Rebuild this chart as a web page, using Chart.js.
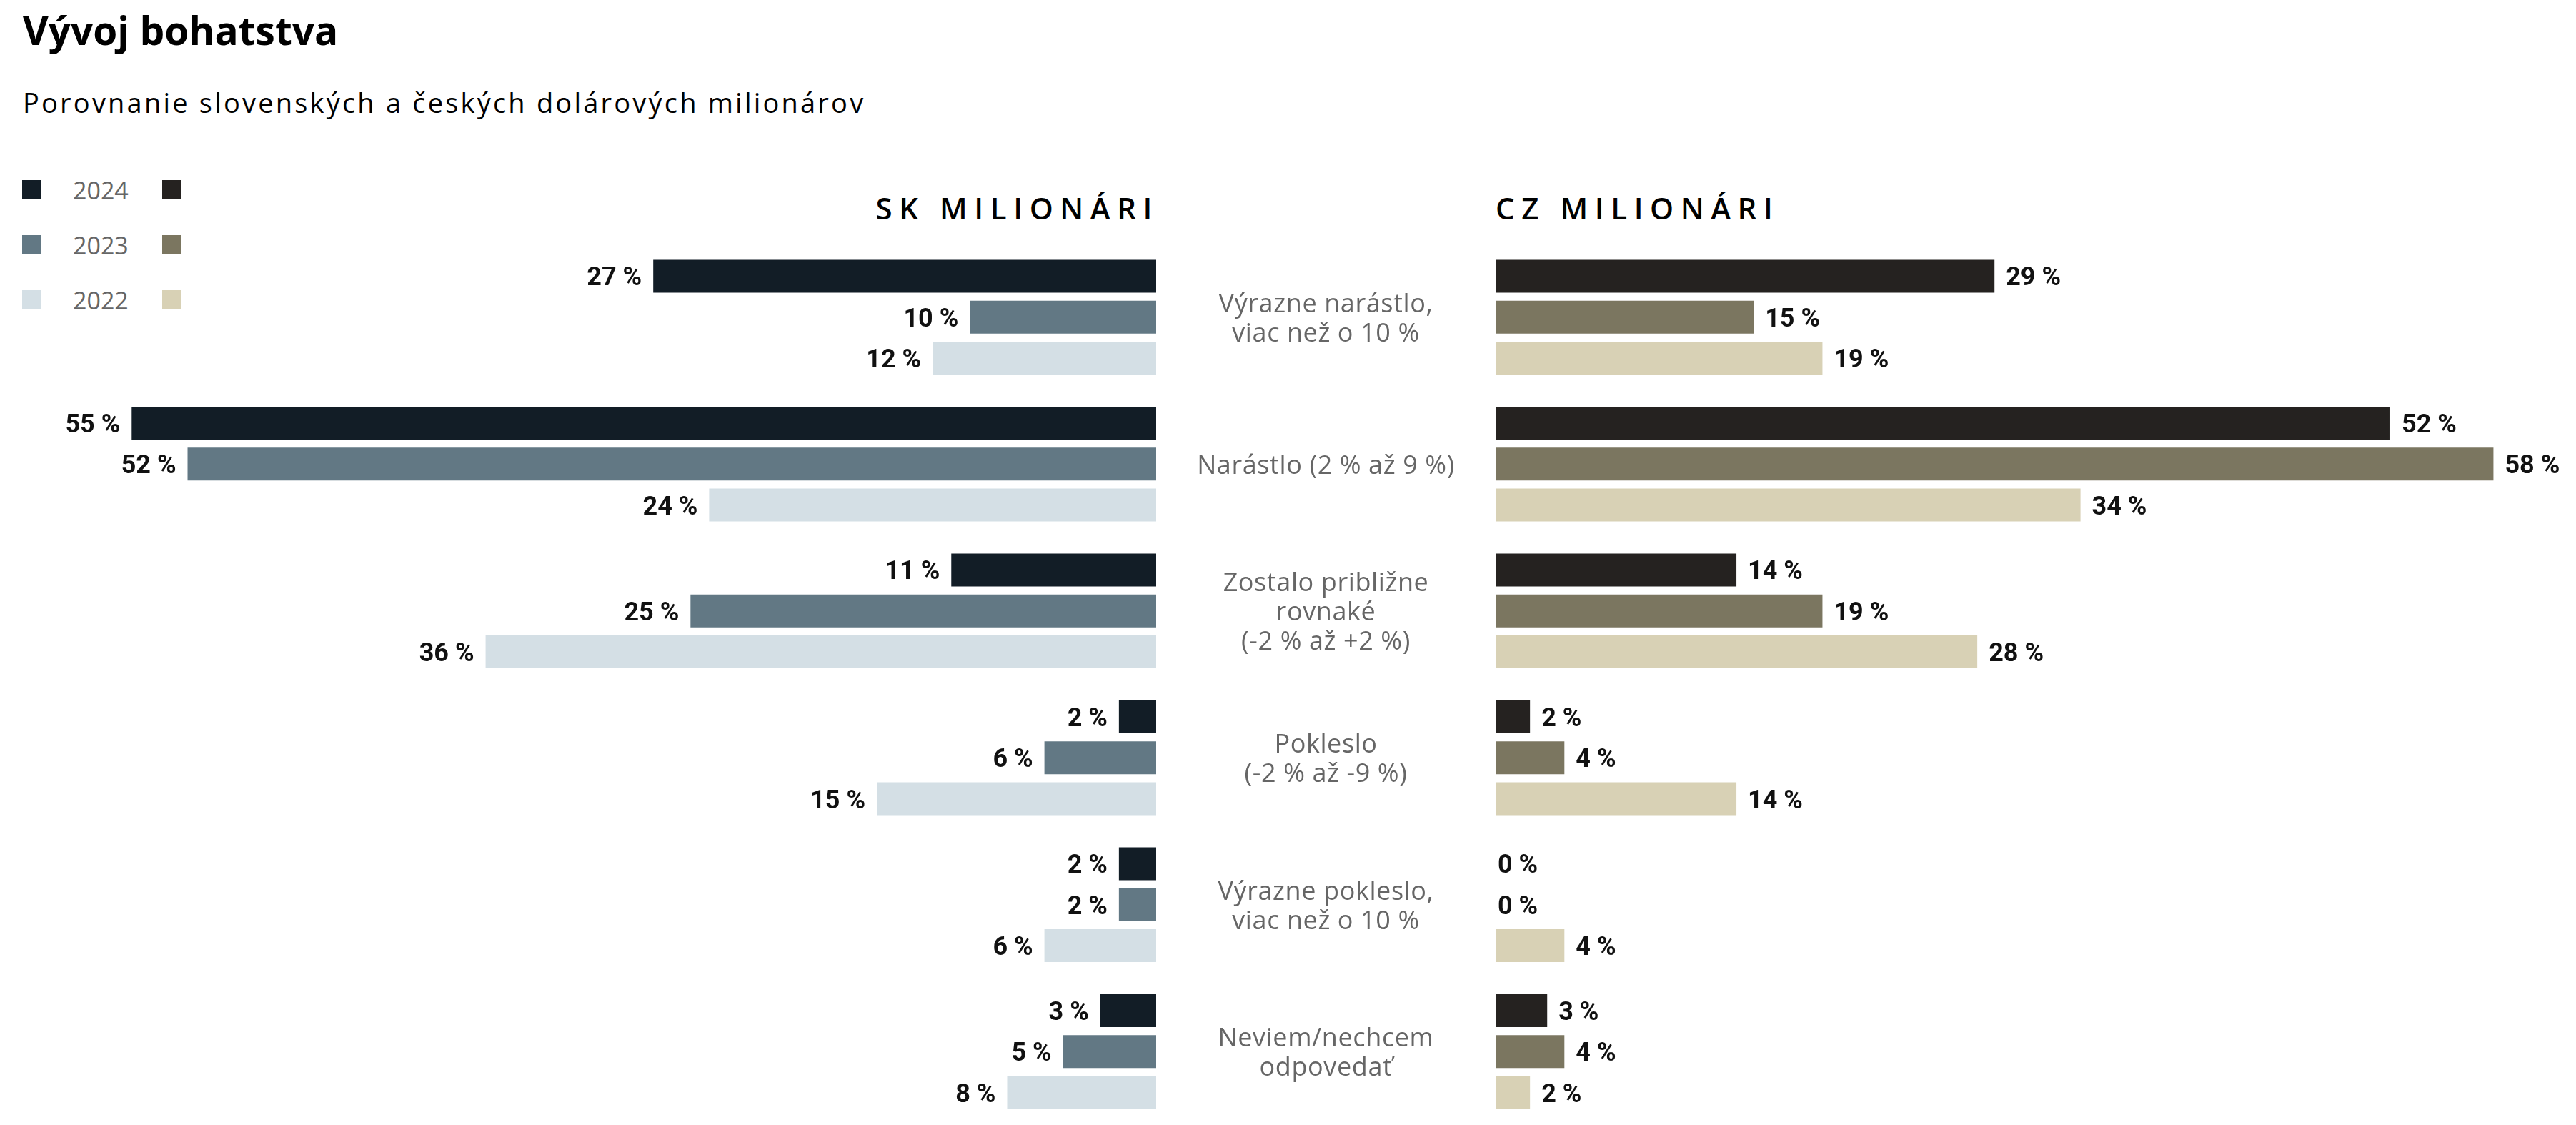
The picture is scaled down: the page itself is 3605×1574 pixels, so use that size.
<!DOCTYPE html>
<html>
<head>
<meta charset="utf-8">
<script src="https://cdn.jsdelivr.net/npm/chart.js@4.4.1/dist/chart.umd.min.js"></script>
<style>
  body { margin: 0; width: 3605px; height: 1574px; overflow: hidden; background: #fff; font-family: "Open Sans", sans-serif; }
  .abs { position: absolute; white-space: nowrap; line-height: 1; }
  #title { left: 32px; top: 14px; font-size: 55px; font-weight: 700; color: #000; }
  #subtitle { left: 32px; top: 124px; font-size: 38px; letter-spacing: 3.2px; color: #000; }
  .head { top: 270px; font-size: 42px; font-weight: 600; letter-spacing: 9.6px; color: #000; }
  #skHead { right: calc(3605px - 1622px); }
  #czHead { left: 2093px; }
  .legend-row { position: absolute; left: 0; height: 27px; }
  .sq { position: absolute; top: 0; width: 27px; height: 27px; }
  .legend-row span.lbl { position: absolute; left: 102px; top: -3px; font-size: 34px; font-weight: 400; color: #666; line-height: 1; }
  #skWrap { position: absolute; left: 0; top: 0; width: 1618px; height: 1574px; }
  #czWrap { position: absolute; left: 1618px; top: 0; width: 1987px; height: 1574px; }
</style>
</head>
<body>
<div id="title" class="abs">Vývoj bohatstva</div>
<div id="subtitle" class="abs">Porovnanie slovenských a českých dolárových milionárov</div>
<div id="skHead" class="abs head">SK MILIONÁRI</div>
<div id="czHead" class="abs head">CZ MILIONÁRI</div>
<div id="legend"></div>
<div id="skWrap"><canvas id="sk"></canvas></div>
<div id="czWrap"><canvas id="cz"></canvas></div>
<script>
const categories = [
  ['Výrazne narástlo,', 'viac než o 10 %'],
  ['Narástlo (2 % až 9 %)'],
  ['Zostalo približne', 'rovnaké', '(-2 % až +2 %)'],
  ['Pokleslo', '(-2 % až -9 %)'],
  ['Výrazne pokleslo,', 'viac než o 10 %'],
  ['Neviem/nechcem', 'odpovedať']
];
const years = ['2024', '2023', '2022'];

const sk2024 = [27, 55, 11, 2, 2, 3];
const sk2023 = [10, 52, 25, 6, 2, 5];
const sk2022 = [12, 24, 36, 15, 6, 8];

const cz2024 = [29, 52, 14, 2, 0, 3];
const cz2023 = [15, 58, 19, 4, 0, 4];
const cz2022 = [19, 34, 28, 14, 4, 2];

const skColors = ['#121d26', '#627884', '#d4dfe5'];
const czColors = ['#252220', '#7b7660', '#d8d1b5'];

// legend: one row per year, SK square left, CZ square right
const legend = document.getElementById('legend');
years.forEach((y, i) => {
  const row = document.createElement('div');
  row.className = 'legend-row';
  row.style.top = (252 + i * 77) + 'px';
  row.innerHTML = `<div class="sq" style="left:31px;background:${skColors[i]}"></div>` +
    `<span class="lbl">${y}</span>` +
    `<div class="sq" style="left:227px;background:${czColors[i]}"></div>`;
  legend.appendChild(row);
});

const barLabels = {
  id: 'barLabels',
  afterDatasetsDraw(chart, args, opts) {
    const ctx = chart.ctx;
    ctx.save();
    ctx.font = 'bold 36px Roboto';
    ctx.fillStyle = '#111';
    ctx.textBaseline = 'middle';
    chart.data.datasets.forEach((ds, di) => {
      chart.getDatasetMeta(di).data.forEach((bar, i) => {
        const v = ds.data[i];
        const gap = v > 0 ? 16 : 3;
        if (opts.side === 'left') {
          ctx.textAlign = 'right';
          ctx.fillText(v + ' %', bar.x - gap, bar.y + 4);
        } else {
          ctx.textAlign = 'left';
          ctx.fillText(v + ' %', bar.x + gap, bar.y + 4);
        }
      });
    });
    ctx.restore();
  }
};

// category texts sit in the gap between the two charts
const categoryLabels = {
  id: 'categoryLabels',
  afterDraw(chart, args, opts) {
    if (!opts.show) return;
    const ctx = chart.ctx;
    const yScale = chart.scales.y;
    const cx = chart.chartArea.left - opts.gapWidth / 2;
    ctx.save();
    ctx.font = '400 36px "Open Sans"';
    ctx.letterSpacing = '0.6px';
    ctx.fillStyle = '#666';
    ctx.textAlign = 'center';
    ctx.textBaseline = 'middle';
    categories.forEach((lines, i) => {
      const yc = yScale.getPixelForValue(i);
      lines.forEach((t, k) => {
        ctx.fillText(t, cx, yc + 3 + (k - (lines.length - 1) / 2) * 41);
      });
    });
    ctx.restore();
  }
};

function makeDatasets(series, colors) {
  return series.map((data, i) => ({
    label: years[i],
    data: data,
    backgroundColor: colors[i],
    borderWidth: 0,
    barPercentage: 0.803,
    categoryPercentage: 0.8366
  }));
}

function makeChart(id, series, colors, opts) {
  return new Chart(document.getElementById(id), {
    type: 'bar',
    data: {
      labels: categories.map(c => c.join(' ')),
      datasets: makeDatasets(series, colors)
    },
    options: {
      indexAxis: 'y',
      responsive: true,
      maintainAspectRatio: false,
      animation: false,
      layout: { padding: { top: 341, bottom: 0, left: opts.padLeft, right: 0 } },
      scales: {
        x: { type: 'linear', min: 0, max: opts.max, reverse: opts.reverse, display: false },
        y: { display: false }
      },
      plugins: {
        legend: { display: false },
        tooltip: { enabled: false },
        barLabels: { side: opts.side },
        categoryLabels: { show: opts.showCats, gapWidth: opts.padLeft }
      }
    },
    plugins: [barLabels, categoryLabels]
  });
}

makeChart('sk', [sk2024, sk2023, sk2022], skColors,
  { max: 62.07, reverse: true, side: 'left', padLeft: 0, showCats: false });
makeChart('cz', [cz2024, cz2023, cz2022], czColors,
  { max: 62.8, reverse: false, side: 'right', padLeft: 475, showCats: true });
</script>
</body>
</html>
